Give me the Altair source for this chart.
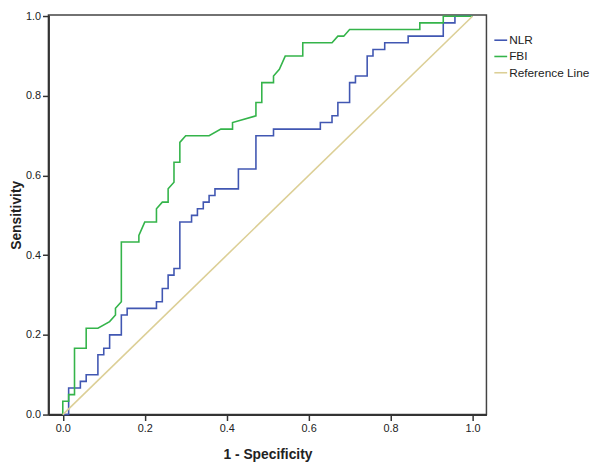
import altair as alt
import pandas as pd

# ROC curve vertices (false-positive rate, true-positive rate)
nlr_fpr = [0.0, 0.0143, 0.0143, 0.0429, 0.0429, 0.0571, 0.0571, 0.0857, 0.0857, 0.1, 0.1,
           0.1143, 0.1143, 0.1429, 0.1429, 0.1571, 0.1571, 0.2286, 0.2286, 0.2429, 0.2429,
           0.2571, 0.2571, 0.2714, 0.2714, 0.2857, 0.2857, 0.3143, 0.3143, 0.3286, 0.3286,
           0.3429, 0.3429, 0.3571, 0.3571, 0.3714, 0.3714, 0.4286, 0.4286, 0.4714, 0.4714,
           0.5143, 0.5143, 0.6286, 0.6286, 0.6571, 0.6571, 0.6714, 0.6714, 0.7, 0.7,
           0.7143, 0.7143, 0.7429, 0.7429, 0.7571, 0.7571, 0.7857, 0.7857, 0.8429, 0.8429,
           0.9286, 0.9286, 0.9571, 0.9571, 1.0]
nlr_tpr = [0.0, 0.0, 0.0667, 0.0667, 0.0833, 0.0833, 0.1, 0.1, 0.15, 0.15, 0.1667,
           0.1667, 0.2, 0.2, 0.25, 0.25, 0.2667, 0.2667, 0.2833, 0.2833, 0.3167,
           0.3167, 0.35, 0.35, 0.3667, 0.3667, 0.4833, 0.4833, 0.5, 0.5, 0.5167,
           0.5167, 0.5333, 0.5333, 0.55, 0.55, 0.5667, 0.5667, 0.6167, 0.6167, 0.7,
           0.7, 0.7167, 0.7167, 0.7333, 0.7333, 0.75, 0.75, 0.7833, 0.7833, 0.8333,
           0.8333, 0.85, 0.85, 0.9, 0.9, 0.9167, 0.9167, 0.9333, 0.9333, 0.95,
           0.95, 0.9833, 0.9833, 1.0, 1.0]

fbi_fpr = [0.0, 0.0, 0.0143, 0.0143, 0.0286, 0.0286, 0.0571, 0.0571, 0.0857, 0.1143,
           0.1286, 0.1286, 0.1429, 0.1429, 0.1857, 0.1857, 0.2, 0.2286, 0.2286, 0.2429,
           0.2571, 0.2571, 0.2714, 0.2714, 0.2857, 0.2857, 0.3, 0.3571, 0.3857, 0.4143,
           0.4143, 0.4714, 0.4714, 0.4857, 0.4857, 0.5143, 0.5143, 0.5286, 0.5429, 0.5857,
           0.5857, 0.6571, 0.6714, 0.6857, 0.7, 0.8714, 0.8714, 0.9286, 0.9286, 1.0]
fbi_tpr = [0.0, 0.0333, 0.0333, 0.05, 0.05, 0.1667, 0.1667, 0.2167, 0.2167, 0.2333,
           0.25, 0.2667, 0.2833, 0.4333, 0.4333, 0.45, 0.4833, 0.4833, 0.5167, 0.5333,
           0.5333, 0.5667, 0.5833, 0.6333, 0.6333, 0.6833, 0.7, 0.7, 0.7167, 0.7167,
           0.7333, 0.75, 0.7833, 0.7833, 0.8333, 0.8333, 0.85, 0.8667, 0.9, 0.9,
           0.9333, 0.9333, 0.95, 0.95, 0.9667, 0.9667, 0.9833, 0.9833, 1.0, 1.0]

ref_fpr = [0.0, 1.0]
ref_tpr = [0.0, 1.0]

series_names = ["NLR", "FBI", "Reference Line"]
series_colors = ["#4157b2", "#34b44a", "#dccf96"]
series_widths = [1.6, 1.6, 1.2]
axis_ticks = [0.0, 0.2, 0.4, 0.6, 0.8, 1.0]

rows = []
for name, xs, ys in zip(series_names, [nlr_fpr, fbi_fpr, ref_fpr], [nlr_tpr, fbi_tpr, ref_tpr]):
    for i, (a, b) in enumerate(zip(xs, ys)):
        rows.append({"series": name, "fpr": a, "tpr": b, "idx": i})
df = pd.DataFrame(rows)

FONT = "Arial, Liberation Sans, sans-serif"

chart = alt.Chart(df).mark_line(strokeJoin="miter").encode(
    x=alt.X("fpr:Q",
            scale=alt.Scale(domain=[-0.035, 1.034], nice=False, zero=False),
            axis=alt.Axis(title="1 - Specificity", values=axis_ticks, format=".1f",
                          grid=False, titleBaseline="alphabetic", titleY=45)),
    y=alt.Y("tpr:Q",
            scale=alt.Scale(domain=[0, 1.003], nice=False, zero=False),
            axis=alt.Axis(title="Sensitivity", values=axis_ticks, format=".1f",
                          grid=False, titleBaseline="alphabetic", titleX=-28)),
    color=alt.Color("series:N",
                    scale=alt.Scale(domain=series_names, range=series_colors),
                    legend=alt.Legend(title=None, orient="none", legendX=451, legendY=18,
                                      symbolType="stroke", symbolSize=169,
                                      symbolStrokeWidth=2, labelFont=FONT,
                                      labelFontSize=12, labelColor="#222",
                                      labelOffset=1, rowPadding=2.5)),
    strokeWidth=alt.StrokeWidth("series:N",
                                scale=alt.Scale(domain=series_names, range=series_widths),
                                legend=None),
    order="idx:Q",
).properties(
    width=444, height=405,
    autosize="none",
    padding={"left": 41, "top": 4, "right": 107, "bottom": 50},
).configure_view(
    stroke="#444", strokeWidth=1.5
).configure_axis(
    domainColor="#333", domainWidth=2, tickColor="#333", tickWidth=1.5, tickSize=6,
    labelFont=FONT, labelFontSize=11, labelColor="#222", labelPadding=2,
    titleFont=FONT, titleFontSize=14, titleFontWeight="bold", titleColor="#222",
)

chart.save("out.html", embed_options={"renderer": "svg", "actions": False})
